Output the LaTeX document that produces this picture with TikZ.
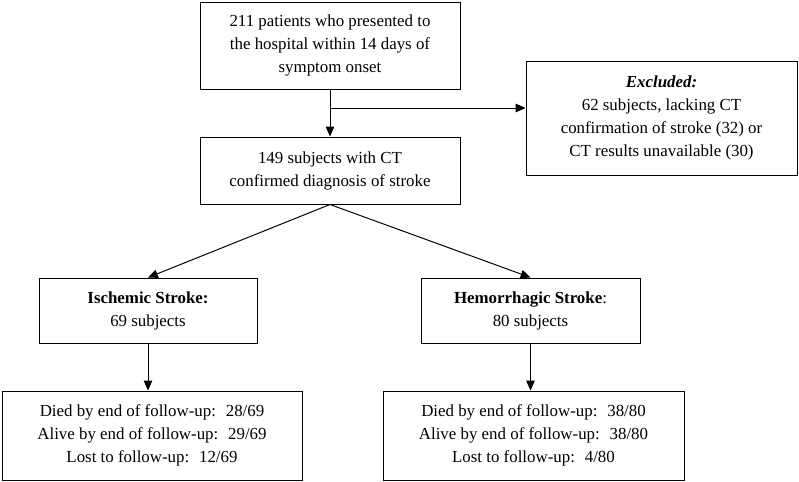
\documentclass[tikz,border=0pt]{standalone}
\usepackage{fontspec}
\setmainfont{Liberation Serif}
\usepackage{tikz}
\usetikzlibrary{arrows.meta}

\tikzset{
  flowbox/.style={draw, line width=0.7pt, align=center, inner sep=0pt,
    font=\fontsize{12}{16.4}\selectfont},
  flowarrow/.style={line width=0.7pt, -{Triangle[length=7pt,width=6pt]}}
}

\begin{document}
\begin{tikzpicture}[x=0.025cm, y=-0.025cm]
			\useasboundingbox (0,0) rectangle (799,481);

			% Draw the top boxes
			\node[flowbox, minimum width=260*0.025cm, minimum height=87*0.025cm] (patients) at (330,45.5)
				{211 patients who presented to\\the hospital within 14 days of\\symptom onset};
			\node[flowbox, minimum width=260*0.025cm, minimum height=67*0.025cm] (confirmed) at (330,170.5)
				{149 subjects with CT\\confirmed diagnosis of stroke};
			\node[flowbox, minimum width=271*0.025cm, minimum height=114*0.025cm] (excluded) at (661.5,118)
				{\textbf{\textit{Excluded:}}\\62 subjects, lacking CT\\confirmation of stroke (32) or\\CT results unavailable (30)};

			% Draw the stroke type boxes
			\node[flowbox, minimum width=218*0.025cm, minimum height=65*0.025cm] (ischemic) at (148,310.5)
				{\textbf{Ischemic Stroke:}\\69 subjects};
			\node[flowbox, minimum width=219*0.025cm, minimum height=65*0.025cm] (hemorrhagic) at (530.5,310.5)
				{\textbf{Hemorrhagic Stroke}:\\80 subjects};

			% Draw the outcome boxes
			\node[flowbox, minimum width=300*0.025cm, minimum height=89*0.025cm] (outischemic) at (152,435.5)
				{Died by end of follow-up: \ 28/69\\Alive by end of follow-up: \ 29/69\\Lost to follow-up: \ 12/69};
			\node[flowbox, minimum width=301*0.025cm, minimum height=89*0.025cm] (outhemorrhagic) at (533.5,435.5)
				{Died by end of follow-up: \ 38/80\\Alive by end of follow-up: \ 38/80\\Lost to follow-up: \ 4/80};

			% Connect the boxes
			\coordinate (split) at (patients.south |- 0,108);
			\draw[flowarrow] (patients.south) -- (confirmed.north);
			\draw[flowarrow] (split) -- (split -| excluded.west);
			\draw[flowarrow] (confirmed.south) -- (ischemic.north);
			\draw[flowarrow] (confirmed.south) -- (hemorrhagic.north);
			\draw[flowarrow] (ischemic.south) -- (outischemic.north -| ischemic.south);
			\draw[flowarrow] (hemorrhagic.south) -- (outhemorrhagic.north -| hemorrhagic.south);
		\end{tikzpicture}
\end{document}
